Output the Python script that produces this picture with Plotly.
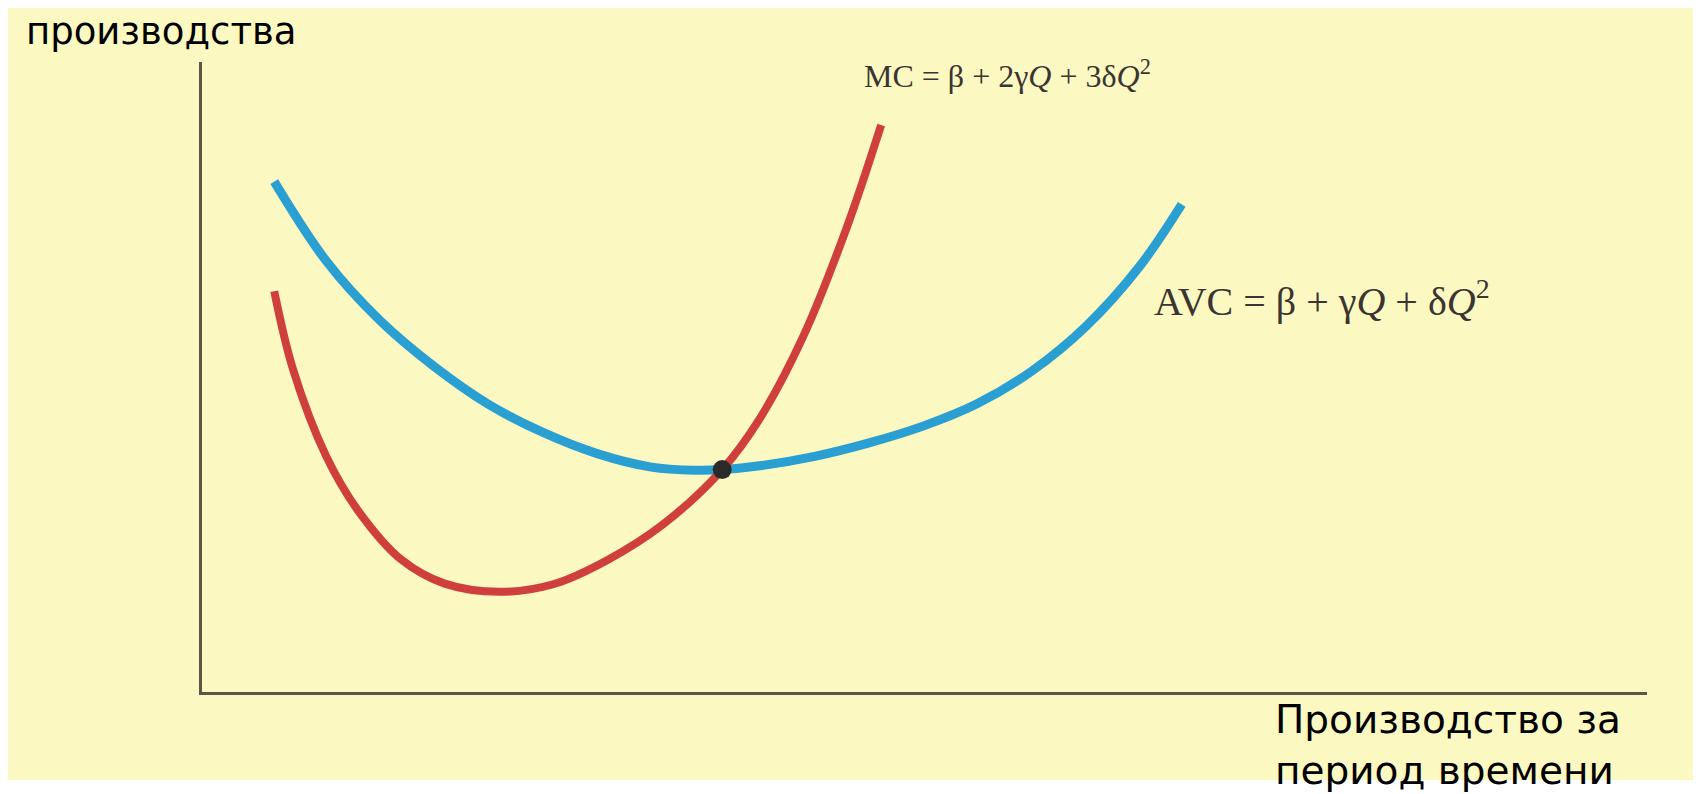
import plotly.graph_objects as go

# Output quantity (Q) and cost values (arbitrary units 0-100)
avc_q = [5.0, 8.6, 12.3, 16.1, 19.8, 23.6, 27.4, 31.1, 34.1, 36.0, 38.6, 42.4, 46.1, 49.9, 53.6, 57.4, 61.2, 64.9, 67.8]
avc_cost = [81.0, 68.4, 59.0, 51.6, 45.7, 41.2, 37.8, 35.7, 35.2, 35.3, 35.9, 37.4, 39.5, 42.2, 45.7, 50.9, 58.1, 67.6, 77.4]

mc_q = [5.0, 6.3, 8.6, 10.8, 13.8, 16.8, 20.6, 24.3, 28.1, 31.9, 36.0, 38.6, 41.6, 44.6, 47.0]
mc_cost = [63.6, 51.2, 37.4, 28.8, 21.0, 17.2, 15.9, 17.1, 21.0, 26.6, 35.3, 43.4, 56.4, 73.6, 90.0]

cross_q = [36.0]
cross_cost = [35.3]

mc_label = "MC = β + 2γ<i>Q</i> + 3δ<i>Q</i><sup>2</sup>"
avc_label = "AVC = β + γ<i>Q</i> + δ<i>Q</i><sup>2</sup>"
y_title = "производства"
x_title_1 = "Производство за"
x_title_2 = "период времени"

fig = go.Figure()
fig.add_trace(go.Scatter(x=avc_q, y=avc_cost, mode="lines",
                         line=dict(color="#2a9fd2", width=9, shape="spline"),
                         showlegend=False, hoverinfo="skip"))
fig.add_trace(go.Scatter(x=mc_q, y=mc_cost, mode="lines",
                         line=dict(color="#cf3f3c", width=8, shape="spline"),
                         showlegend=False, hoverinfo="skip"))
fig.add_trace(go.Scatter(x=cross_q, y=cross_cost, mode="markers",
                         marker=dict(color="#2b2a2a", size=19),
                         showlegend=False, hoverinfo="skip"))

# page has an 8px body margin: lay out in page pixels minus 8
OFF = 8
W, H = 1701 - OFF, 794 - OFF
L, T = 202 - OFF, 62 - OFF
R = W - (1647 - OFF)
B = H - (692 - OFF)
pw, ph = W - L - R, H - T - B

def px(xp):
    return (xp - OFF - L) / pw

def py(yp):
    return (H - B - (yp - OFF)) / ph

# yellow scanned-page background
fig.add_shape(type="rect", xref="paper", yref="paper",
              x0=px(6), x1=px(1705), y0=py(780), y1=py(7),
              fillcolor="#fcf8c2", line=dict(width=0), layer="below")

serif = "Liberation Serif, DejaVu Serif, serif"
sans = "DejaVu Sans, Open Sans, sans-serif"

fig.add_annotation(text=mc_label, xref="paper", yref="paper", x=px(862), y=py(74),
                   xanchor="left", yanchor="middle", showarrow=False,
                   font=dict(family=serif, size=32, color="#3a3530"))
fig.add_annotation(text=avc_label, xref="paper", yref="paper", x=px(1152), y=py(298),
                   xanchor="left", yanchor="middle", showarrow=False,
                   font=dict(family=serif, size=40, color="#3a3530"))
fig.add_annotation(text=y_title, xref="paper", yref="paper", x=px(24), y=py(8),
                   xanchor="left", yanchor="top", showarrow=False,
                   font=dict(family=sans, size=37, color="#000000"))
fig.add_annotation(text=x_title_1, xref="paper", yref="paper", x=px(1273), y=py(719),
                   xanchor="left", yanchor="middle", showarrow=False,
                   font=dict(family=sans, size=39, color="#000000"))
fig.add_annotation(text=x_title_2, xref="paper", yref="paper", x=px(1273), y=py(770),
                   xanchor="left", yanchor="middle", showarrow=False,
                   font=dict(family=sans, size=39, color="#000000"))

axis_common = dict(showgrid=False, zeroline=False, showticklabels=False, ticks="",
                   showline=True, linecolor="#5d5647", linewidth=3, fixedrange=True)
fig.update_xaxes(range=[0, 100], **axis_common)
fig.update_yaxes(range=[0, 100], **axis_common)

fig.update_layout(width=W, height=H, margin=dict(l=L, r=R, t=T, b=B),
                  paper_bgcolor="#ffffff", plot_bgcolor="rgba(0,0,0,0)")

fig.write_html("out.html")
